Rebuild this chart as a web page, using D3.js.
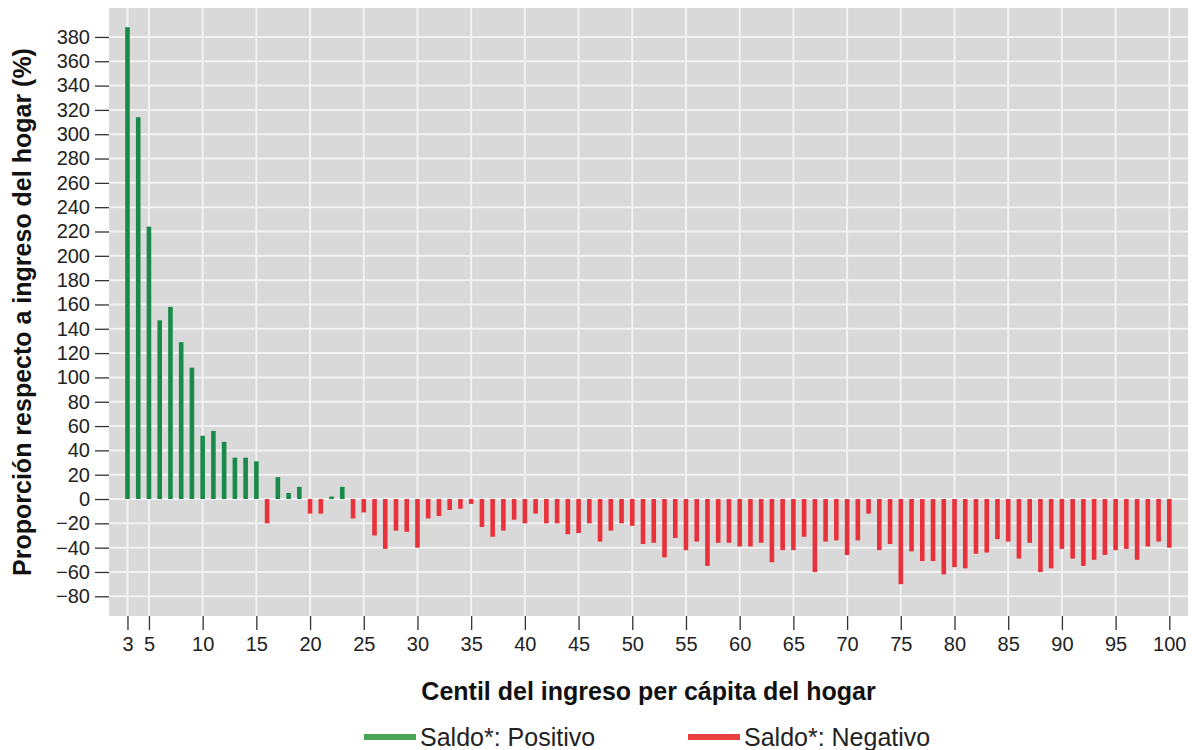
<!DOCTYPE html>
<html>
<head>
    <meta charset="utf-8">
    <title>Saldo por centil</title>
    <script src="https://d3js.org/d3.v7.min.js"></script>
    <style>
        body { margin: 0; background: #fff; }
        text { font-family: "Liberation Sans", Arial, sans-serif; }
    </style>
</head>
<body>
<div id="output"></div>

<script type="text/javascript">

    // centiles 3..100 and the balance as % of household income
    var centiles = d3.range(3, 101);
    var saldo = [388, 314, 224, 147, 158, 129, 108, 52, 56, 47,      // 3-12
                 34, 34, 31, -20, 18, 5, 10, -12, -12, 2,            // 13-22
                 10, -16, -11, -30, -41, -26, -27, -40, -16, -14,    // 23-32
                 -9, -8, -4, -23, -31, -26, -17, -20, -12, -20,      // 33-42
                 -20, -29, -28, -20, -35, -26, -20, -22, -37, -36,   // 43-52
                 -48, -32, -42, -35, -55, -36, -36, -39, -39, -36,   // 53-62
                 -52, -42, -42, -31, -60, -35, -34, -46, -34, -12,   // 63-72
                 -42, -37, -70, -43, -51, -51, -62, -56, -57, -45,   // 73-82
                 -44, -33, -35, -49, -36, -60, -57, -41, -49, -55,   // 83-92
                 -50, -46, -42, -41, -50, -39, -35, -40];            // 93-100

    var xTicks = [3, 5, 10, 15, 20, 25, 30, 35, 40, 45, 50, 55, 60, 65, 70, 75, 80, 85, 90, 95, 100];
    var yTicks = d3.range(-80, 381, 20);

    var legendLabels = ["Saldo*: Positivo", "Saldo*: Negativo"];

    var w = 1196, h = 750;
    var plot = {left: 109, right: 1188, top: 8, bottom: 616};

    var x = d3.scaleLinear()
        .domain([1.28, 101.74])
        .range([plot.left, plot.right]);

    var y = d3.scaleLinear()
        .domain([-96.2, 403.8])
        .range([plot.bottom, plot.top]);

    var svg = d3.select("#output").append("svg")
        .attr("width", w)
        .attr("height", h);

    // grey panel
    svg.append("rect")
        .attr("x", plot.left)
        .attr("y", plot.top)
        .attr("width", plot.right - plot.left)
        .attr("height", plot.bottom - plot.top)
        .attr("fill", "#d9d9d9");

    // white grid
    svg.append("g").selectAll("line")
        .data(yTicks)
        .enter().append("line")
        .attr("x1", plot.left).attr("x2", plot.right)
        .attr("y1", function(d){ return y(d); })
        .attr("y2", function(d){ return y(d); })
        .attr("stroke", "#f2f2f2")
        .attr("stroke-width", 2);

    svg.append("g").selectAll("line")
        .data(xTicks)
        .enter().append("line")
        .attr("y1", plot.top).attr("y2", plot.bottom)
        .attr("x1", function(d){ return x(d); })
        .attr("x2", function(d){ return x(d); })
        .attr("stroke", "#f2f2f2")
        .attr("stroke-width", 2);

    // bars
    svg.append("g").selectAll("rect")
        .data(centiles)
        .enter().append("rect")
        .attr("x", function(d){ return x(d) - 2.3; })
        .attr("width", 4.6)
        .attr("y", function(d, i){ return y(Math.max(0, saldo[i])); })
        .attr("height", function(d, i){ return Math.abs(y(saldo[i]) - y(0)); })
        .attr("fill", function(d, i){ return saldo[i] >= 0 ? "#1a8a4a" : "#e8313a"; });

    // axes
    var yAxis = d3.axisLeft(y)
        .tickValues(yTicks)
        .tickSize(14)
        .tickPadding(5);

    var xAxis = d3.axisBottom(x)
        .tickValues(xTicks)
        .tickSize(14)
        .tickPadding(7);

    var gy = svg.append("g")
        .attr("transform", "translate(" + plot.left + ",0)")
        .call(yAxis);

    var gx = svg.append("g")
        .attr("transform", "translate(0," + plot.bottom + ")")
        .call(xAxis);

    [gx, gy].forEach(function(g){
        g.select(".domain").remove();
        g.selectAll(".tick line").attr("stroke", "#333").attr("stroke-width", 1.3);
        g.selectAll(".tick text")
            .attr("fill", "#222")
            .style("font-size", "20px")
            .style("font-family", "'Liberation Sans', Arial, sans-serif");
    });

    // axis titles
    svg.append("text")
        .attr("x", (plot.left + plot.right) / 2)
        .attr("y", 700)
        .attr("text-anchor", "middle")
        .attr("fill", "#111")
        .style("font-size", "25px")
        .style("font-weight", "bold")
        .text("Centil del ingreso per cápita del hogar");

    svg.append("text")
        .attr("transform", "translate(31," + (plot.top + plot.bottom) / 2 + ") rotate(-90)")
        .attr("text-anchor", "middle")
        .attr("fill", "#111")
        .style("font-size", "25px")
        .style("font-weight", "bold")
        .text("Proporción respecto a ingreso del hogar (%)");

    // legend
    var legendX = [364, 688];
    var legendColors = ["#4aa657", "#ea4040"];

    var leg = svg.append("g").selectAll("g")
        .data(legendLabels)
        .enter().append("g")
        .attr("transform", function(d, i){ return "translate(" + legendX[i] + ",737)"; });

    leg.append("rect")
        .attr("x", 0).attr("y", -3)
        .attr("width", 52).attr("height", 6)
        .attr("fill", function(d, i){ return legendColors[i]; });

    leg.append("text")
        .attr("x", 56)
        .attr("y", 9)
        .attr("fill", "#222")
        .style("font-size", "25px")
        .text(function(d){ return d; });

</script>
</body>
</html>
